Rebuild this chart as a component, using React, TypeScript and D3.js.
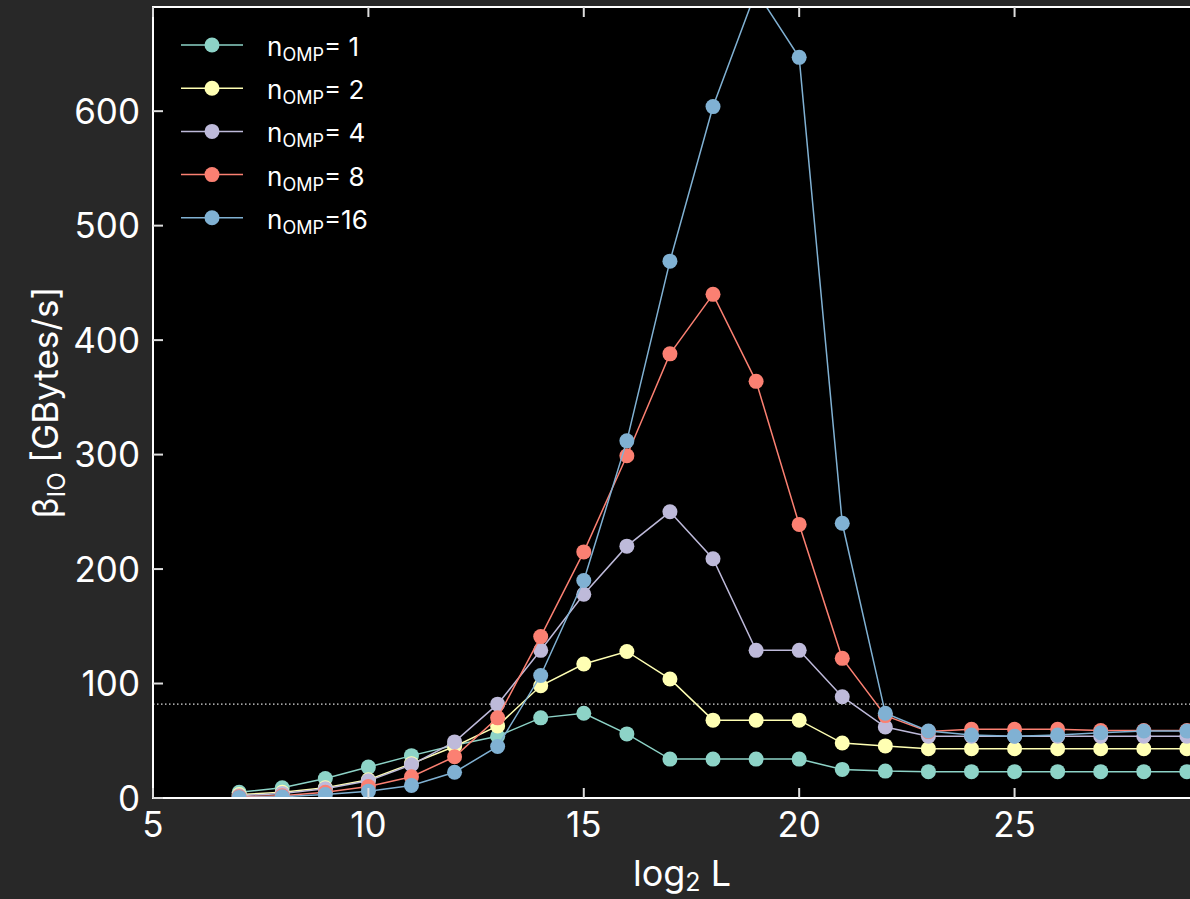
import React, { useEffect, useRef } from 'react';
import * as d3 from 'd3';

const logL = [7, 8, 9, 10, 11, 12, 13, 14, 15, 16, 17, 18, 19, 20, 21, 22, 23, 24, 25, 26, 27, 28, 29];

const omp1 = [5, 9, 17, 27, 37, 46, 54, 70, 74, 56, 34, 34, 34, 34, 25, 23.5, 23, 23, 23, 23, 23, 23, 23];
const omp2 = [3, 5, 9, 16, 30, 45, 63, 98, 117, 128, 104, 68, 68, 68, 48, 45.5, 43, 43, 43, 43, 43, 43, 43];
const omp4 = [2, 4, 8, 15, 29, 49, 82, 129, 178, 220, 250, 209, 129, 129, 88.5, 62, 54, 54, 54, 54, 54, 54, 54];
const omp8 = [1, 2, 5, 10, 18.6, 36, 70, 141, 215, 299, 388, 440, 364, 239, 122, 72, 58, 60, 60, 60, 59, 59, 59];
const omp16 = [0.5, 1, 3, 6, 11, 22.5, 45, 107, 190, 312, 469, 604, 705, 647, 240, 74, 58.5, 55, 54, 55, 57, 58.5, 58.5];

const seriesNames = ['1', '2', '4', '8', '16'];
const seriesColors = ['#8dd3c7', '#ffffb3', '#bebada', '#fb8072', '#80b1d3'];
const seriesValues = [omp1, omp2, omp4, omp8, omp16];

const xTicks = [5, 10, 15, 20, 25];
const yTicks = [0, 100, 200, 300, 400, 500, 600];
const refLevel = 82;

const W = 1190;
const H = 899;
const FONT = 'Inter, Lato, "DejaVu Sans", sans-serif';

const App = () => {
  const svgRef = useRef<SVGSVGElement>(null);

  useEffect(() => {
    const svg = d3.select(svgRef.current);
    svg.selectAll('*').remove();

    const left = 153;
    const top = 7;
    const bottom = 798;
    const right = 1211;

    const x = d3.scaleLinear().domain([5, 29.56]).range([left, right]);
    const y = d3.scaleLinear().domain([0, 691]).range([bottom, top]);

    svg.append('rect').attr('width', W).attr('height', H).attr('fill', '#282828');
    svg.append('rect')
      .attr('x', left).attr('y', top)
      .attr('width', right - left).attr('height', bottom - top)
      .attr('fill', '#000');

    svg.append('defs').append('clipPath').attr('id', 'plotclip')
      .append('rect')
      .attr('x', left).attr('y', top)
      .attr('width', right - left).attr('height', bottom - top);

    const plot = svg.append('g').attr('clip-path', 'url(#plotclip)');

    // dotted reference level
    plot.append('line')
      .attr('x1', left).attr('x2', right)
      .attr('y1', y(refLevel)).attr('y2', y(refLevel))
      .attr('stroke', '#ddd')
      .attr('stroke-width', 1.2)
      .attr('stroke-dasharray', '1.5,2.5');

    const line = d3.line<number>()
      .x((_, i) => x(logL[i]))
      .y(d => y(d));

    seriesValues.forEach((vals, k) => {
      const g = plot.append('g');
      g.append('path')
        .datum(vals)
        .attr('fill', 'none')
        .attr('stroke', seriesColors[k])
        .attr('stroke-width', 1.5)
        .attr('d', line);
      g.selectAll('circle')
        .data(vals)
        .enter().append('circle')
        .attr('cx', (_, i) => x(logL[i]))
        .attr('cy', d => y(d))
        .attr('r', 7.5)
        .attr('fill', seriesColors[k]);
    });

    // frame
    svg.append('rect')
      .attr('x', left).attr('y', top)
      .attr('width', right - left).attr('height', bottom - top)
      .attr('fill', 'none')
      .attr('stroke', '#fff')
      .attr('stroke-width', 2);

    // ticks (inward)
    const tickG = svg.append('g').attr('stroke', '#ddd').attr('stroke-width', 2);
    xTicks.forEach(t => {
      tickG.append('line').attr('x1', x(t)).attr('x2', x(t)).attr('y1', bottom).attr('y2', bottom - 10);
      tickG.append('line').attr('x1', x(t)).attr('x2', x(t)).attr('y1', top).attr('y2', top + 10);
    });
    yTicks.forEach(t => {
      tickG.append('line').attr('x1', left).attr('x2', left + 10).attr('y1', y(t)).attr('y2', y(t));
    });

    svg.append('g').selectAll('text')
      .data(xTicks)
      .enter().append('text')
      .attr('x', d => x(d))
      .attr('y', bottom + 39)
      .attr('text-anchor', 'middle')
      .attr('fill', '#fff')
      .style('font-family', FONT)
      .style('font-size', '35px')
      .text(d => d);

    svg.append('g').selectAll('text')
      .data(yTicks)
      .enter().append('text')
      .attr('x', left - 13)
      .attr('y', d => y(d))
      .attr('dy', '0.36em')
      .attr('text-anchor', 'end')
      .attr('fill', '#fff')
      .style('font-family', FONT)
      .style('font-size', '35px')
      .text(d => d);

    // x label
    const xl = svg.append('text')
      .attr('x', (left + right) / 2)
      .attr('y', 886)
      .attr('text-anchor', 'middle')
      .attr('fill', '#fff')
      .style('font-family', FONT)
      .style('font-size', '36px');
    xl.append('tspan').text('log');
    xl.append('tspan').attr('dy', 5).style('font-size', '25px').text('2');
    xl.append('tspan').attr('dy', -5).text('\u00a0L');

    // y label
    const yl = svg.append('text')
      .attr('transform', `translate(58,${(top + bottom) / 2}) rotate(-90)`)
      .attr('text-anchor', 'middle')
      .attr('fill', '#fff')
      .style('font-family', FONT)
      .style('font-size', '35px');
    yl.append('tspan').text('β');
    yl.append('tspan').attr('dy', 7).style('font-size', '24px').text('IO');
    yl.append('tspan').attr('dy', -7).text(' [GBytes/s]');

    // legend
    const leg = svg.append('g');
    seriesNames.forEach((name, k) => {
      const ly = 45 + k * 43.2;
      leg.append('line')
        .attr('x1', 181).attr('x2', 243)
        .attr('y1', ly).attr('y2', ly)
        .attr('stroke', seriesColors[k])
        .attr('stroke-width', 1.5);
      leg.append('circle')
        .attr('cx', 212).attr('cy', ly).attr('r', 7.5)
        .attr('fill', seriesColors[k]);
      const t = leg.append('text')
        .attr('x', 267)
        .attr('y', ly + 11)
        .attr('fill', '#fff')
        .style('font-family', FONT)
        .style('font-size', '26px');
      t.append('tspan').text('n');
      t.append('tspan').attr('dy', 5).style('font-size', '18px').text('OMP');
      t.append('tspan').attr('dy', -5).text(name.length === 1 ? '=\u00a0' + name : '=' + name);
    });
  }, []);

  return (
    <div style={{ position: 'absolute', left: 0, top: 0 }}>
      <svg ref={svgRef} width={W} height={H} style={{ display: 'block' }} />
    </div>
  );
};

export default App;
